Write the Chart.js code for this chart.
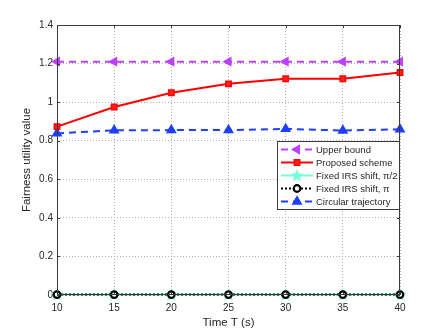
<!DOCTYPE html>
<html>
<head>
<meta charset="utf-8">
<script src="https://cdn.jsdelivr.net/npm/chart.js@4"></script>
<style>
  html, body { margin: 0; padding: 0; background: #fff; }
  #wrap { width: 443px; height: 333px; position: relative; }
</style>
</head>
<body>
<div id="wrap"><canvas id="fairChart" width="443" height="333"></canvas></div>
<script>
/* ---- data ---- */
const timeT = [10, 15, 20, 25, 30, 35, 40];
const upperBound = [1.21, 1.21, 1.21, 1.21, 1.21, 1.21, 1.21];
const proposedScheme = [0.873, 0.975, 1.049, 1.095, 1.121, 1.121, 1.154];
const fixedHalfPi = [0.002, 0.002, 0.002, 0.002, 0.002, 0.002, 0.002];
const fixedPi = [0.002, 0.002, 0.002, 0.002, 0.002, 0.002, 0.002];
const circularTraj = [0.838, 0.854, 0.855, 0.855, 0.861, 0.853, 0.859];
const yTicks = [0, 0.2, 0.4, 0.6, 0.8, 1, 1.2, 1.4];

const FONT = '"Liberation Sans", Arial, sans-serif';

// filled pentagram used as the marker for the pi/2 curve
function makeStar(color) {
    const c = document.createElement('canvas');
    c.width = 15; c.height = 15;
    const g = c.getContext('2d');
    g.beginPath();
    for (let i = 0; i < 10; i++) {
        const r = i % 2 === 0 ? 7 : 2.9;
        const a = -Math.PI / 2 + i * Math.PI / 5;
        const px = 7.5 + r * Math.cos(a), py = 7.8 + r * Math.sin(a);
        if (i === 0) g.moveTo(px, py); else g.lineTo(px, py);
    }
    g.closePath();
    g.fillStyle = color;
    g.fill();
    return c;
}
const starImg = makeStar('#70ffd6');

function pts(ys) {
    return timeT.map((t, i) => ({ x: t, y: ys[i] }));
}

const datasets = [
    {
        label: 'Upper bound', data: pts(upperBound),
        borderColor: '#bf40ff', backgroundColor: '#bf40ff', borderWidth: 2, borderDash: [7, 5],
        pointStyle: 'triangle', rotation: 270, pointRadius: 4.5, pointBorderWidth: 1.5, order: 1
    },
    {
        label: 'Proposed scheme', data: pts(proposedScheme),
        borderColor: '#ff0000', backgroundColor: '#ff2020', borderWidth: 2, borderDash: [],
        pointStyle: 'rect', pointRadius: 3.8, pointBorderWidth: 1.5, order: 1
    },
    {
        label: 'Fixed IRS shift, \u03c0/2', data: pts(fixedHalfPi),
        borderColor: '#70ffd6', backgroundColor: '#70ffd6', borderWidth: 2, borderDash: [],
        pointStyle: starImg, pointRadius: 6, order: 2
    },
    {
        label: 'Fixed IRS shift, \u03c0', data: pts(fixedPi),
        borderColor: '#000000', backgroundColor: '#ffffff', borderWidth: 2, borderDash: [2, 2],
        pointStyle: 'circle', pointRadius: 3.3, pointBorderWidth: 2.2, order: 1
    },
    {
        label: 'Circular trajectory', data: pts(circularTraj),
        borderColor: '#1f3fff', backgroundColor: '#1f3fff', borderWidth: 2, borderDash: [7, 5],
        pointStyle: 'triangle', rotation: 0, pointRadius: 4.8, pointBorderWidth: 1.5, order: 1
    }
];

// axes box, inward ticks and the boxed legend, MATLAB style
const boxPlugin = {
    id: 'matlabBox',
    afterDraw(chart) {
        const ctx = chart.ctx;
        const a = chart.chartArea;
        const xs = chart.scales.x, ys = chart.scales.y;
        ctx.save();
        ctx.strokeStyle = '#3a3a3a';
        ctx.lineWidth = 1;
        ctx.setLineDash([]);
        ctx.strokeRect(a.left + 0.5, a.top + 0.5, a.right - a.left - 1, a.bottom - a.top - 1);
        ctx.beginPath();
        timeT.forEach(t => {
            const px = Math.round(xs.getPixelForValue(t)) + 0.5;
            ctx.moveTo(px, a.bottom); ctx.lineTo(px, a.bottom - 3);
            ctx.moveTo(px, a.top); ctx.lineTo(px, a.top + 3);
        });
        yTicks.forEach(v => {
            const py = Math.round(ys.getPixelForValue(v)) + 0.5;
            ctx.moveTo(a.left, py); ctx.lineTo(a.left + 3, py);
            ctx.moveTo(a.right, py); ctx.lineTo(a.right - 3, py);
        });
        ctx.stroke();

        // legend
        const lx = 277, ly = 141, lw = 122, lh = 68;
        ctx.fillStyle = '#ffffff';
        ctx.fillRect(lx, ly, lw, lh);
        ctx.strokeStyle = '#3a3a3a';
        ctx.strokeRect(lx + 0.5, ly + 0.5, lw, lh);
        ctx.font = '9.5px ' + FONT;
        ctx.textBaseline = 'middle';
        ctx.textAlign = 'left';
        datasets.forEach((ds, i) => {
            const y = ly + 8.5 + i * 13;
            ctx.strokeStyle = ds.borderColor;
            ctx.lineWidth = ds.borderWidth;
            ctx.setLineDash(ds.borderDash);
            ctx.beginPath();
            ctx.moveTo(281, y); ctx.lineTo(313, y);
            ctx.stroke();
            ctx.setLineDash([]);
            ctx.fillStyle = ds.backgroundColor;
            ctx.lineWidth = ds.pointBorderWidth || 1;
            Chart.helpers.drawPoint(ctx, {
                pointStyle: ds.pointStyle, rotation: ds.rotation || 0,
                radius: ds.pointRadius, borderWidth: ds.pointBorderWidth || 1
            }, 297, y);
            ctx.fillStyle = '#262626';
            ctx.fillText(ds.label, 316, y + 0.5);
        });
        ctx.restore();
    }
};

const ctx = document.getElementById('fairChart').getContext('2d');
new Chart(ctx, {
    type: 'line',
    data: { datasets },
    plugins: [boxPlugin],
    options: {
        responsive: false,
        animation: false,
        clip: false,
        layout: { padding: { left: 0, top: 25, right: 43, bottom: 0 } },
        elements: { line: { tension: 0, fill: false } },
        plugins: { legend: { display: false }, tooltip: { enabled: false } },
        scales: {
            x: {
                type: 'linear', min: 10, max: 40,
                afterFit: s => { s.height = 38; },
                afterBuildTicks: s => { s.ticks = timeT.map(v => ({ value: v })); },
                ticks: { color: '#262626', font: { family: FONT, size: 10 }, padding: 7, maxRotation: 0 },
                grid: { color: '#b0b0b0', drawTicks: false, lineWidth: 1 },
                border: { display: false, dash: [1, 2] },
                title: { display: true, text: 'Time T (s)', color: '#262626',
                         font: { family: FONT, size: 11.5 }, padding: { top: 0, bottom: 3 } }
            },
            y: {
                min: 0, max: 1.4,
                afterFit: s => { s.width = 57; },
                afterBuildTicks: s => { s.ticks = yTicks.map(v => ({ value: v })); },
                ticks: { color: '#262626', font: { family: FONT, size: 10 }, padding: 4,
                         callback: v => String(Math.round(v * 10) / 10) },
                grid: { color: '#b0b0b0', drawTicks: false, lineWidth: 1 },
                border: { display: false, dash: [1, 2] },
                title: { display: true, text: 'Fairness utility value', color: '#262626',
                         font: { family: FONT, size: 11.5 }, padding: { top: 20, bottom: 0 } }
            }
        }
    }
});
</script>
</body>
</html>
